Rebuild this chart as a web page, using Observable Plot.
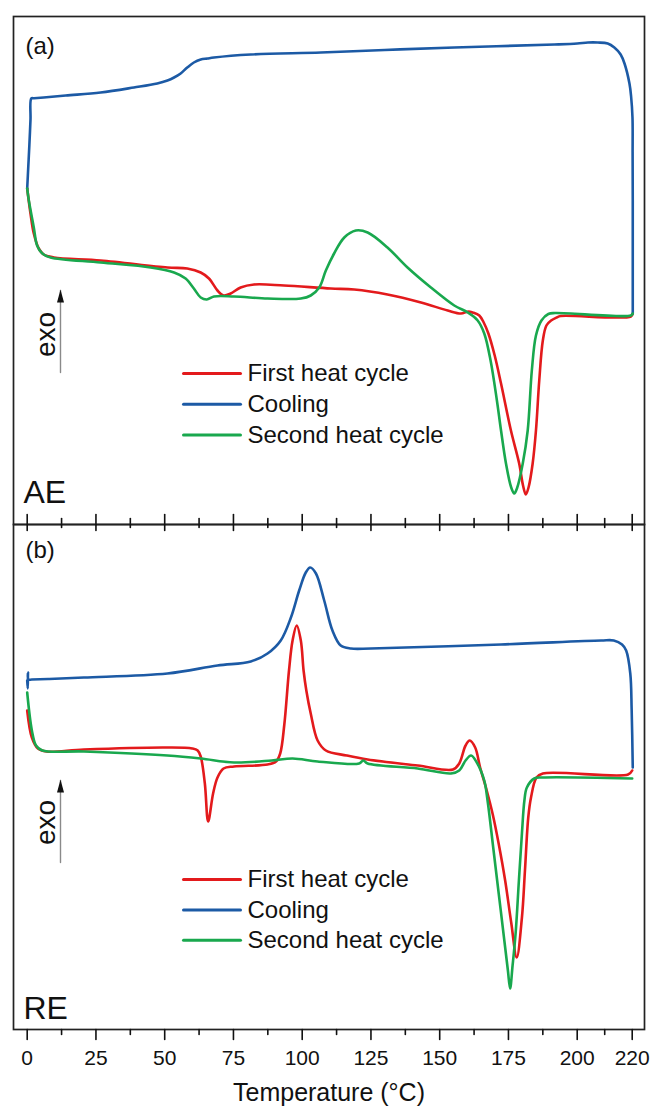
<!DOCTYPE html>
<html>
<head>
<meta charset="utf-8">
<script src="https://cdn.jsdelivr.net/npm/d3@7"></script>
<script src="https://cdn.jsdelivr.net/npm/@observablehq/plot@0.6"></script>
<style>
  body { margin: 0; background: #fff; }
  #chart { width: 653px; }
  #chart svg { display: block; overflow: visible; }
</style>
</head>
<body>
<div id="chart"></div>
<script>
// ---------------- data (temperature °C, heat flow in arbitrary units, exo up) ----------------
const seriesNames = ["First heat cycle", "Cooling", "Second heat cycle"];
const seriesColors = ["#e31a1c", "#1c5aa5", "#19a84e"];
const panelLabels = ["(a)", "(b)"];
const sampleLabels = ["AE", "RE"];
const tickMajor = [0, 25, 50, 75, 100, 125, 150, 175, 200, 220];
const tickMinor = [12.5, 37.5, 62.5, 87.5, 112.5, 137.5, 162.5, 187.5, 210];
const xTitle = "Temperature (°C)";

// Panel (a) — AE
const firstHeatA = [[0,3.36],[1.2,3.11],[2.4,2.91],[4.2,2.76],[6.0,2.70],[9.7,2.67],[26.7,2.64],[51.0,2.57],[58.2,2.56],[63.1,2.52],[66.1,2.46],[69.2,2.34],[71.4,2.29],[74.0,2.31],[77.6,2.37],[82.5,2.40],[93.4,2.39],[110.4,2.36],[118.9,2.35],[131,2.30],[143.2,2.22],[152.9,2.14],[157.7,2.11],[160.5,2.13],[162,2.12],[164.4,2.09],[166,2.02],[167.7,1.91],[170,1.69],[172.3,1.41],[175.9,0.94],[178.9,0.61],[180.3,0.39],[181.3,0.30],[182.3,0.37],[183.8,0.61],[185,0.94],[186.2,1.44],[187.5,1.84],[188.8,1.99],[190.5,2.04],[192.5,2.07],[194,2.085],[219.5,2.08],[220.2,2.11]];
const coolingA = [[220.2,2.11],[220.2,2.7],[220.2,3.24],[220.15,3.7],[220.1,4.07],[219.6,4.28],[219.0,4.41],[217.2,4.61],[215.8,4.70],[213.5,4.77],[211.1,4.81],[207.5,4.82],[203.9,4.82],[200,4.81],[191.7,4.80],[155.3,4.77],[130,4.745],[106.8,4.72],[81.3,4.70],[67.9,4.67],[65.5,4.66],[63.1,4.65],[60.6,4.62],[58.2,4.57],[55.8,4.51],[53.4,4.47],[51.0,4.44],[47.3,4.41],[38.8,4.37],[26.7,4.32],[14,4.29],[6,4.27],[2.5,4.262],[1.5,4.26],[1.2,4.05],[0.8,3.8],[0.4,3.58],[0,3.36]];
const secondHeatA = [[0,3.36],[0.6,3.24],[2.4,2.97],[3.6,2.79],[5.5,2.71],[8.5,2.67],[26.7,2.62],[44.9,2.57],[53.4,2.52],[57.6,2.46],[60.6,2.36],[63.1,2.27],[65.3,2.25],[67.9,2.28],[75.2,2.28],[87.4,2.26],[99.5,2.26],[103.1,2.29],[106.2,2.37],[108.6,2.54],[111.6,2.71],[115.3,2.87],[119.5,2.94],[123.8,2.92],[131,2.77],[138.3,2.57],[146.8,2.37],[155.3,2.19],[160.2,2.12],[163.8,2.04],[166.2,1.91],[168.5,1.64],[170.8,1.24],[172.3,0.94],[174.1,0.61],[176.0,0.37],[177.1,0.31],[178.2,0.37],[180.2,0.61],[182,0.94],[183.5,1.54],[185,1.89],[187,2.04],[189.5,2.105],[192,2.115],[219.5,2.09],[220.2,2.11]];

// Panel (b) — RE
const firstHeatB = [[0,3.19],[1.7,2.92],[3.9,2.81],[7,2.78],[20.6,2.80],[51,2.82],[60,2.81],[62,2.79],[63.1,2.73],[64.6,2.46],[65.8,2.08],[67.6,2.36],[69.2,2.52],[71.4,2.61],[75.2,2.63],[87.4,2.65],[90.5,2.68],[92,2.76],[93.5,3.05],[95.2,3.59],[96.5,3.89],[98,4.04],[99.5,3.89],[100.5,3.59],[101.5,3.39],[103.1,3.16],[105.6,2.89],[108.6,2.79],[116.2,2.74],[123.8,2.70],[142,2.64],[154.8,2.60],[157.1,2.66],[159.4,2.84],[160.9,2.89],[162.9,2.82],[164.7,2.62],[167,2.40],[169.3,2.15],[171.5,1.85],[173.8,1.49],[176,1.07],[178,0.72],[179.9,1.12],[181,1.59],[182.2,2.12],[183.2,2.32],[185.2,2.52],[187.5,2.56],[218.5,2.55],[220,2.59]];
const coolingB = [[220.2,2.62],[219.8,3.2],[219.3,3.56],[217.8,3.79],[216.3,3.85],[213.3,3.89],[208.7,3.89],[172.3,3.85],[125,3.81],[117.7,3.81],[114,3.84],[111,3.99],[108,4.29],[105,4.56],[102.9,4.62],[101.3,4.57],[98.9,4.39],[95.9,4.12],[92.2,3.89],[87.4,3.76],[81.3,3.68],[69.2,3.64],[51,3.56],[20.6,3.52],[8,3.505],[1.7,3.50],[0.4,3.50],[0.3,3.57],[0.2,3.41],[0,3.49]];
const secondHeatB = [[0,3.37],[1.7,2.99],[3.2,2.84],[5.5,2.79],[20.6,2.78],[51,2.74],[63.1,2.71],[75.2,2.67],[88.9,2.69],[96.5,2.71],[105.6,2.68],[120.7,2.66],[122.2,2.69],[123.8,2.66],[142,2.61],[154.1,2.56],[157.1,2.59],[159.4,2.69],[161.4,2.74],[163.5,2.67],[166.2,2.49],[167.4,2.29],[169.5,1.81],[171.5,1.35],[173.5,0.89],[174.8,0.59],[175.6,0.41],[176.5,0.64],[177.6,0.96],[178.8,1.49],[179.9,1.96],[180.8,2.29],[181.7,2.42],[184.4,2.51],[187.5,2.52],[220,2.51]];

// ---------------- drawing ----------------
const FONT = "'Liberation Sans', Arial, Helvetica, sans-serif";
const xDomain = [-4.98, 224.47];
const segShape = {draw(c, l) { c.moveTo(0, 0); c.lineTo(0, -l); }};
const headShape = {draw(c, l) { c.moveTo(-3.5, 0); c.lineTo(0, -l); c.lineTo(3.5, 0); c.closePath(); }};
const rows = (arr) => arr.map(([T, v]) => ({T, v}));

function curves(list) {
  return list.map((arr, i) => Plot.line(rows(arr), {
    x: "T", y: "v", stroke: seriesColors[i], strokeWidth: 2.6, curve: "catmull-rom",
    strokeLinejoin: "round", strokeLinecap: "round"
  }));
}
function tickMarks(anchor, rotate, majorLen, minorLen) {
  return [
    Plot.vector(tickMajor, {x: d => d, frameAnchor: anchor, length: majorLen, rotate, anchor: "start", shape: segShape, stroke: "#111", strokeWidth: 1.6}),
    Plot.vector(tickMinor, {x: d => d, frameAnchor: anchor, length: minorLen, rotate, anchor: "start", shape: segShape, stroke: "#111", strokeWidth: 1.6})
  ];
}
function legendMarks(top0, gap) {
  return seriesNames.flatMap((name, i) => [
    Plot.vector([0], {frameAnchor: "top-left", dx: 170, dy: top0 + i * gap, length: 57, rotate: 90, anchor: "start", shape: segShape, stroke: seriesColors[i], strokeWidth: 3}),
    Plot.text([name], {frameAnchor: "top-left", dx: 234, dy: top0 + i * gap, text: d => d, textAnchor: "start", lineAnchor: "middle", fontSize: 24, fill: "#111"})
  ]);
}
function exoMarks(lineBottom, textCenter) {
  return [
    Plot.vector([0], {frameAnchor: "top-left", dx: 47, dy: lineBottom, length: 82, rotate: 0, anchor: "start", shape: segShape, stroke: "#8a8a8a", strokeWidth: 1.4}),
    Plot.vector([0], {frameAnchor: "top-left", dx: 47, dy: lineBottom - 70, length: 13, rotate: 0, anchor: "start", shape: headShape, fill: "#111", stroke: "none"}),
    Plot.text(["exo"], {frameAnchor: "top-left", dx: 33, dy: textCenter, text: d => d, rotate: -90, textAnchor: "middle", lineAnchor: "middle", fontSize: 28, fill: "#111"})
  ];
}

const topPlot = Plot.plot({
  width: 653, height: 524,
  marginTop: 16, marginBottom: 0, marginLeft: 13, marginRight: 9,
  x: {domain: xDomain, axis: null},
  y: {domain: [0, 5.08], axis: null},
  style: {fontFamily: FONT, overflow: "visible", background: "transparent"},
  marks: [
    ...curves([firstHeatA, coolingA, secondHeatA]),
    Plot.frame({stroke: "#222", strokeWidth: 1.7}),
    ...tickMarks("bottom", 0, 10, 6),
    Plot.text([panelLabels[0]], {frameAnchor: "top-left", dx: 12, dy: 20, text: d => d, textAnchor: "start", lineAnchor: "top", fontSize: 24, fill: "#111"}),
    Plot.text([sampleLabels[0]], {frameAnchor: "top-left", dx: 10, dy: 464, text: d => d, textAnchor: "start", lineAnchor: "top", fontSize: 32, fill: "#111"}),
    ...legendMarks(357, 30.8),
    ...exoMarks(356, 318)
  ]
});

const bottomPlot = Plot.plot({
  width: 653, height: 583,
  marginTop: 0, marginBottom: 78, marginLeft: 13, marginRight: 9,
  x: {domain: xDomain, axis: null},
  y: {domain: [0, 5.05], axis: null},
  style: {fontFamily: FONT, overflow: "visible", background: "transparent"},
  marks: [
    ...curves([firstHeatB, coolingB, secondHeatB]),
    Plot.frame({stroke: "#222", strokeWidth: 1.7}),
    ...tickMarks("top", 180, 6, 3),
    ...tickMarks("bottom", 180, 10, 5),
    Plot.text(tickMajor, {x: d => d, frameAnchor: "bottom", dy: 21, text: d => String(d), lineAnchor: "top", fontSize: 21, fill: "#111"}),
    Plot.text([xTitle], {frameAnchor: "bottom", dy: 54, text: d => d, lineAnchor: "top", fontSize: 25, fill: "#111"}),
    Plot.text([panelLabels[1]], {frameAnchor: "top-left", dx: 12, dy: 16, text: d => d, textAnchor: "start", lineAnchor: "top", fontSize: 24, fill: "#111"}),
    Plot.text([sampleLabels[1]], {frameAnchor: "top-left", dx: 10, dy: 472, text: d => d, textAnchor: "start", lineAnchor: "top", fontSize: 32, fill: "#111"}),
    ...legendMarks(355, 30.4),
    ...exoMarks(338, 298)
  ]
});

const chart = document.getElementById("chart");
chart.appendChild(topPlot);
chart.appendChild(bottomPlot);
</script>
</body>
</html>
